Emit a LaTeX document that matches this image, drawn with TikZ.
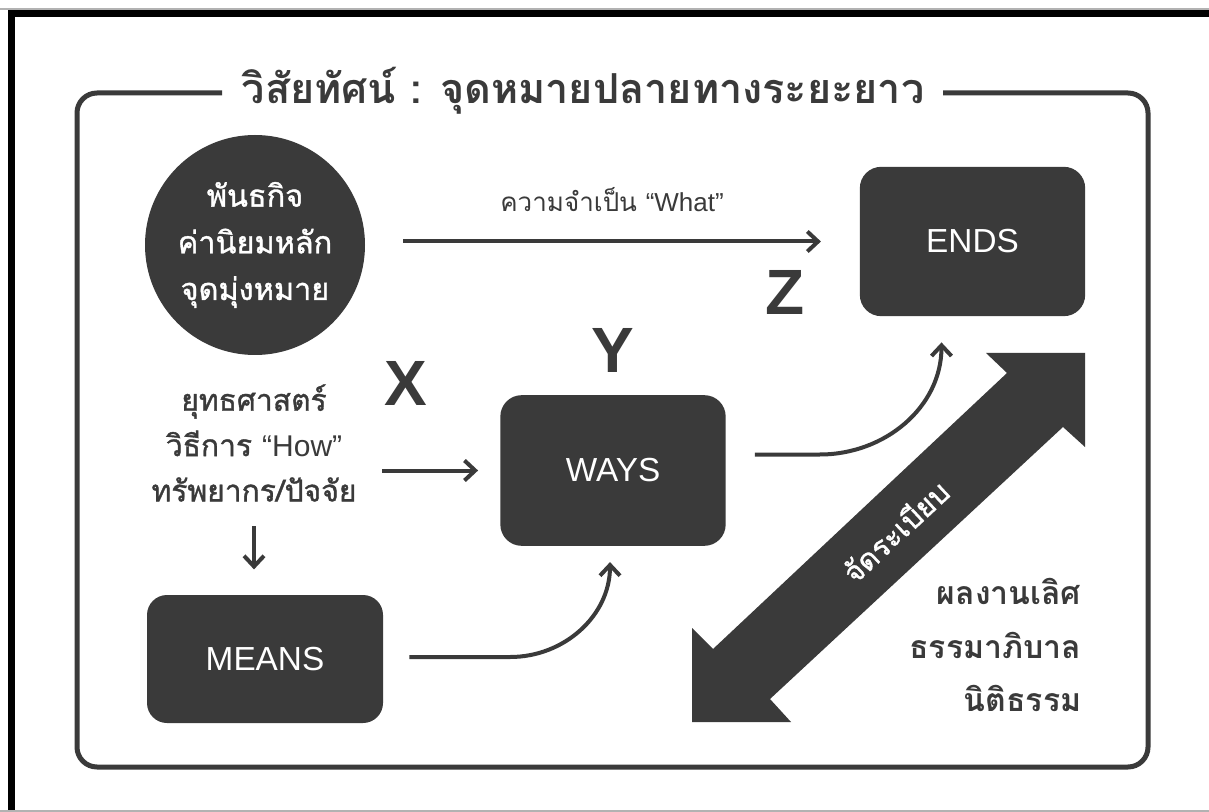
\documentclass[tikz,border=0pt]{standalone}
\usepackage{fontspec}
\setmainfont{Liberation Sans}
\newfontfamily\thaifont[Script=Thai]{Loma}
\newfontfamily\thaimedium[Script=Thai,FakeBold=1.2]{Loma}
\usetikzlibrary{arrows.meta,calc}
\definecolor{ink}{HTML}{3A3A3A}

\begin{document}
\begin{tikzpicture}[
    x=0.75pt, y=-0.75pt,
    box/.style={rounded corners=16pt, fill=ink, text=white, minimum width=169pt,
      minimum height=112pt, font=\fontsize{25}{30}\selectfont},
    thai/.style={text=ink, align=center, font=\thaimedium\fontsize{22.5}{34}\selectfont},
    letter/.style={text=ink, inner sep=0pt, font=\fontsize{48}{48}\selectfont\bfseries},
    flow/.style={draw=ink, line width=3pt, -{Straight Barb[length=8pt,width=15pt]}}
  ]
  \useasboundingbox (0,0) rectangle (1209,812);
  \fill[white] (0,0) rectangle (1209,812);
  % outer black edge
  \fill[black] (8,10) rectangle (1209,17);
  \fill[black] (8,10) rectangle (15,812);
  \draw[gray!60, line width=0.8pt] (0,9) -- (1209,9);
  \draw[gray!60, line width=0.8pt] (0,811) -- (1209,811);

  % frame and title
  \draw[ink, line width=3.75pt, rounded corners=15pt]
    (222,93) -- (77,93) -- (77,767) -- (1148,767) -- (1148,93) -- (943,93);
  \node[anchor=base, text=ink, font=\thaifont\bfseries\fontsize{31}{36}\selectfont]
    (title) at (583,104) {วิสัยทัศน์ : จุดหมายปลายทางระยะยาว};

  % nodes
  \node[circle, fill=ink, minimum size=165pt, inner sep=0pt, text=white, align=center,
    font=\thaimedium\fontsize{23}{35}\selectfont] (mission) at (255,245)
    {พันธกิจ\\ค่านิยมหลัก\\จุดมุ่งหมาย};
  \node[thai, font=\thaifont\fontsize{19.5}{22}\selectfont] (need) at (612,200)
    {ความจำเป็น {\fontspec{Liberation Sans}“What”}};
  \node[box] (ends) at (972.5,241.5) {ENDS};
  \node[box, minimum height=113pt] (ways) at (613,470.5) {WAYS};
  \node[box, minimum width=177pt, minimum height=96pt, rounded corners=15pt] (means) at (265,659) {MEANS};
  \node[thai] (strategy) at (254,443)
    {ยุทธศาสตร์\\วิธีการ {\fontspec{Liberation Sans}“How”}\\ทรัพยากร/ปัจจัย};
  \node[letter] (xlab) at (406,383) {X};
  \node[letter] (ylab) at (613,350) {Y};
  \node[letter] (zlab) at (785,292) {Z};

  % double arrow
  \fill[ink] (692,722) -- (692,628) -- (713,649) -- (1007,373) -- (986,353) -- (1085,353)
    -- (1085,447) -- (1063,427) -- (770,699) -- (791,722) -- cycle;
  \node[rotate=43, text=white, font=\thaimedium\fontsize{22}{26}\selectfont] (order) at (895,531) {จัดระเบียบ};
  \node[thai, align=right, anchor=east, font=\thaifont\bfseries\fontsize{24}{40}\selectfont]
    (values) at (1086,645) {ผลงานเลิศ\\ธรรมาภิบาล\\นิติธรรม};

  % connectors
  \draw[flow, shorten <=28.5pt, shorten >=29pt] (mission.east |- ends.west) -- (ends.west);
  \draw[flow, shorten <=16pt, shorten >=16.5pt] (strategy.east |- ways.west) -- (ways.west);
  \draw[flow, shorten <=15pt, shorten >=19pt] (strategy.south) -- (strategy.south |- means.north);
  \draw[flow] ($(means.east)+(26,-2)$) -- ++(101,0) to[out=0,in=-90] ($(ways.south)+(-3,16)$);
  \draw[flow] ($(ways.east)+(29,-16)$) -- ++(65,0) to[out=0,in=-90] ($(ends.south)+(-31,26)$);
\end{tikzpicture}
\end{document}
